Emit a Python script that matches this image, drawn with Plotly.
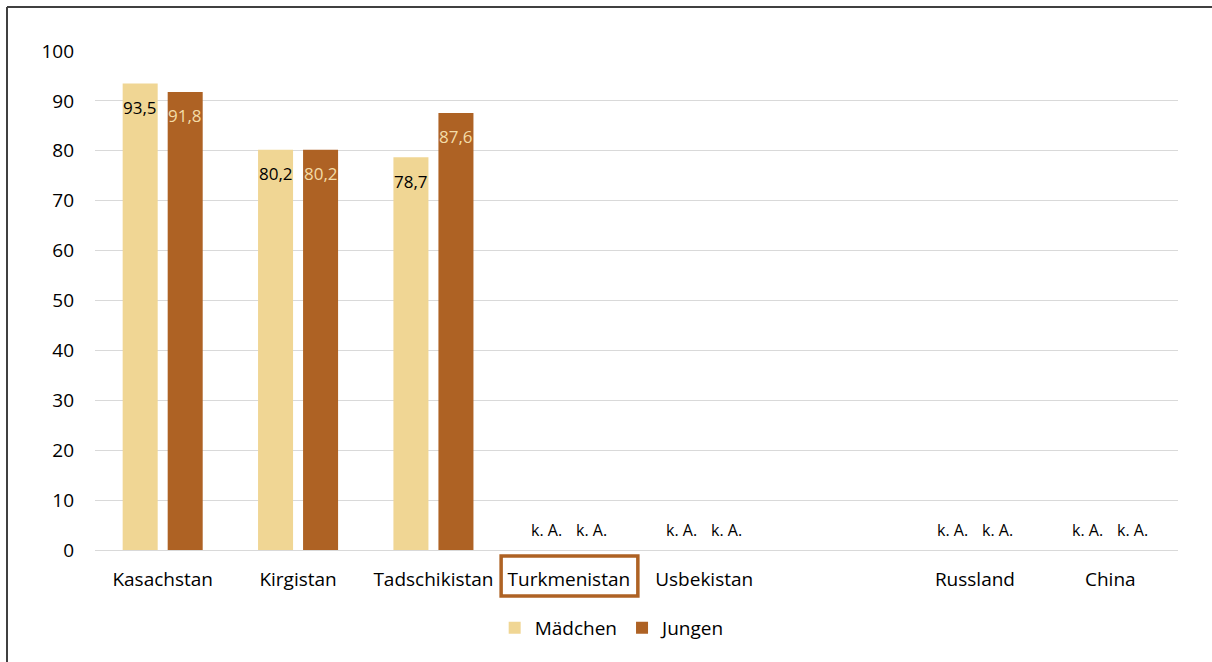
import plotly.graph_objects as go

categories = ["Kasachstan", "Kirgistan", "Tadschikistan", "Turkmenistan",
              "Usbekistan", " ", "Russland", "China"]
maedchen = [93.5, 80.2, 78.7, None, None, None, None, None]
jungen = [91.8, 80.2, 87.6, None, None, None, None, None]
maedchen_labels = ["93,5", "80,2", "78,7", "k. A.", "k. A.", "", "k. A.", "k. A."]
jungen_labels = ["91,8", "80,2", "87,6", "k. A.", "k. A.", "", "k. A.", "k. A."]
y_ticks = [0, 10, 20, 30, 40, 50, 60, 70, 80, 90, 100]

C_M = "#F0D694"
C_J = "#AE6224"
C_JLAB = "#F3DCA8"
FONT = "Open Sans"

fig = go.Figure()
fig.add_trace(go.Bar(x=categories, y=maedchen, name="Mädchen", marker_color=C_M,
                     marker_line_width=0))
fig.add_trace(go.Bar(x=categories, y=jungen, name="Jungen", marker_color=C_J,
                     marker_line_width=0))

annotations = []
for i, cat in enumerate(categories):
    for vals, labels, shift, col in ((maedchen, maedchen_labels, -22.5, "#000000"),
                                     (jungen, jungen_labels, 22.5, C_JLAB)):
        lab = labels[i]
        if not lab:
            continue
        v = vals[i]
        if v is None:
            annotations.append(dict(x=cat, y=4, text=lab, showarrow=False, xshift=shift,
                                    font=dict(size=16, color="#000000", family=FONT)))
        else:
            annotations.append(dict(x=cat, y=v, text=lab, showarrow=False, xshift=shift,
                                    yshift=-24, font=dict(size=17, color=col, family=FONT)))

fig.update_layout(
    width=1212, height=662,
    margin=dict(l=95, r=34, t=51, b=112),
    paper_bgcolor="white", plot_bgcolor="white",
    barmode="group", bargap=0.335, bargroupgap=0.222,
    font=dict(family=FONT, size=19, color="#000000"),
    showlegend=True,
    legend=dict(orientation="h", x=0.478, xanchor="center", y=-0.156, yanchor="middle",
                font=dict(size=19), itemwidth=30, traceorder="normal"),
    annotations=annotations,
    shapes=[
        dict(type="line", xref="paper", yref="paper", x0=-88 / 1083, x1=1.04,
             y0=(550 - 7) / 499, y1=(550 - 7) / 499, line=dict(color="#404040", width=2)),
        dict(type="line", xref="paper", yref="paper", x0=-88 / 1083, x1=-88 / 1083,
             y0=(550 - 7) / 499, y1=-0.3, line=dict(color="#404040", width=2)),
        dict(type="rect", xref="x", yref="paper", x0=2.5, x1=3.51,
             y0=-6 / 499, y1=-46 / 499, line=dict(color=C_J, width=3.5),
             fillcolor="rgba(0,0,0,0)"),
    ],
)
fig.update_xaxes(type="category", showgrid=False, showline=True, linecolor="#D9D9D9",
                 linewidth=1, ticks="", tickfont=dict(size=19), ticklabelstandoff=12)
fig.update_yaxes(range=[0, 100], tickvals=y_ticks, showgrid=True, gridcolor="#D9D9D9",
                 gridwidth=1, zeroline=False, showline=False, ticks="",
                 tickfont=dict(size=19), ticklabelstandoff=20)

fig.write_html("out.html")
